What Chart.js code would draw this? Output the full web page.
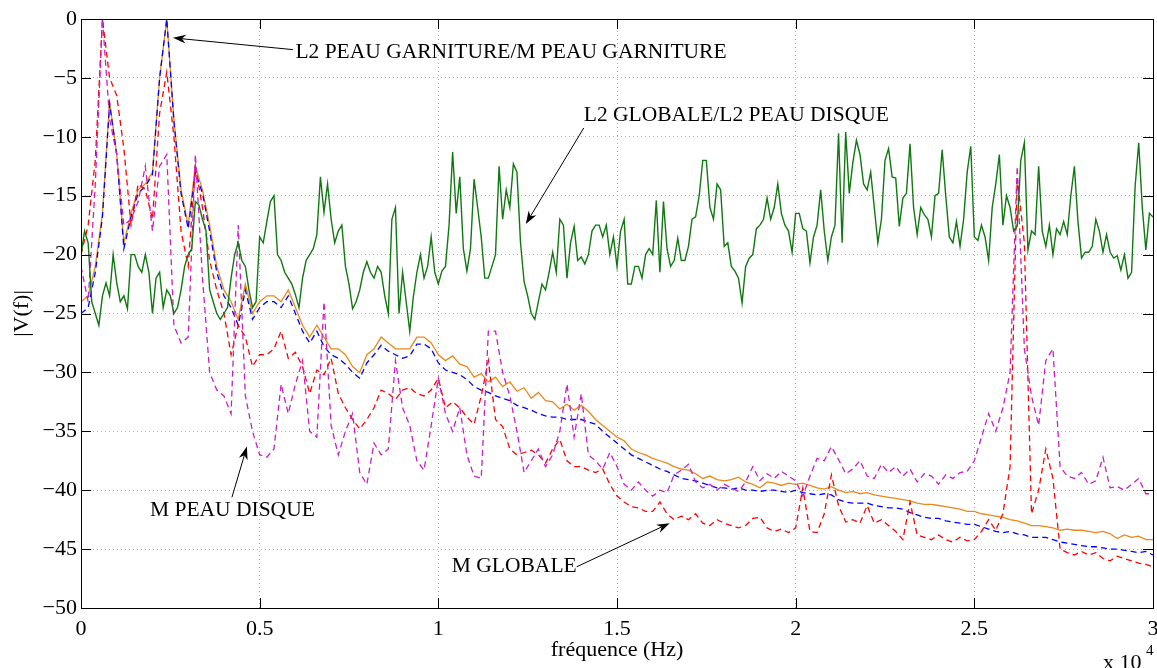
<!DOCTYPE html>
<html lang="fr">
<head>
<meta charset="utf-8">
<title>|V(f)| - spectres</title>
<script src="https://cdn.jsdelivr.net/npm/chart.js@4.4.1/dist/chart.umd.min.js"></script>
<style>
  html, body { margin: 0; padding: 0; background: #ffffff; }
  #spectre-chart { display: block; }
</style>
</head>
<body>
<canvas id="spectre-chart" width="1157" height="668"></canvas>
<script>
/**
 * Spectres |V(f)| : cinq courbes lues sur la figure d'origine
 * courbe verte au pas de 100 Hz, les autres au pas de 200 Hz
 */

// Grilles des fréquences (Hz) et graduations
const freqHz = Array.from({ length: 151 }, (_, i) => i * 200);
const freqFineHz = Array.from({ length: 301 }, (_, i) => i * 100);
const xTicks = [0, 5000, 10000, 15000, 20000, 25000, 30000];
const yTicks = [0, -5, -10, -15, -20, -25, -30, -35, -40, -45, -50];

// L2 GLOBALE / L2 PEAU DISQUE (vert, trait plein, pas de 100 Hz)
const l2Globale = [
  -20, -18, -19, -24, -25, -26, -23.5, -22.4, -23.5, -20,
  -22.4, -24, -23.5, -24.6, -20, -20, -21, -21.5, -20, -21.5,
  -25, -22, -21.5, -24.5, -23, -23.5, -25, -24.5, -23, -21,
  -20, -19.5, -15.5, -15.8, -17, -18, -23, -24, -25, -25.5,
  -25, -24.5, -22, -20, -19, -20.5, -21, -23, -24.5, -24,
  -18.5, -19, -17.2, -15.5, -15, -20, -20.5, -21.5, -22, -22.5,
  -23.4, -24.5, -22, -20.5, -20, -19.5, -18.3, -13.4, -16.4, -14,
  -17, -19, -18, -17.5, -21, -22.5, -24.6, -24, -23, -21.5,
  -20.6, -21.5, -22, -21, -21.5, -23.5, -25, -17, -16, -25,
  -21.5, -24, -26.5, -23.6, -21.5, -20, -22, -21, -18.5, -21.5,
  -22.5, -21.4, -21, -17.5, -11.3, -16.5, -13.4, -19.5, -21.4, -19.5,
  -13.6, -16, -18.5, -22, -22, -21, -20, -12.5, -17, -14.5,
  -16, -12.3, -13, -19, -22.3, -23.5, -25, -25.5, -24, -22.5,
  -23, -21.5, -19.8, -21.5, -17, -17.5, -22, -19, -17.6, -20.5,
  -20.2, -20.8, -20, -18, -17.5, -17.5, -18.5, -17.5, -20, -18.5,
  -21, -18, -17, -22.5, -22.5, -21, -21, -22, -20, -19.5,
  -20, -15.4, -21.5, -15.5, -19.5, -21, -20.5, -18.6, -20.5, -20.5,
  -19.3, -17, -16.8, -15, -12, -12, -16, -17, -14, -14.5,
  -19.3, -19, -21, -21.4, -22, -24.1, -21, -20.3, -20, -17.8,
  -17.5, -17, -15.2, -17, -16, -14, -16.5, -17.5, -18, -19.8,
  -16.5, -16.5, -17.8, -18, -20.7, -18.5, -17.5, -14.5, -18, -20.5,
  -18.5, -17.5, -9.7, -19, -9.6, -14.8, -12.2, -10.3, -11.5, -14,
  -14.5, -13, -16, -19, -17, -12, -11, -13.4, -13.5, -17.6,
  -15.2, -14.8, -10.6, -16, -18.3, -16, -16.6, -17, -18.5, -15,
  -14.8, -11.1, -15, -18.5, -19, -17.2, -19.3, -17, -13, -10.8,
  -18.5, -18.8, -17.5, -18.5, -20.5, -16, -14, -11.5, -17.5, -15,
  -16, -18, -17.6, -12, -10.5, -19.6, -18, -18.3, -12.5, -18,
  -19.3, -17.5, -20, -17.8, -18.3, -17.2, -18.3, -15, -12.5, -17.2,
  -20.3, -19.8, -19.8, -19.3, -17, -18, -19.8, -18.3, -19.8, -20.3,
  -20.1, -21.3, -20, -22, -21.5, -14.2, -10.5, -16, -19.6, -16.5,
  -16.8
];

// L2 PEAU GARNITURE (orange, trait plein)
const l2Garniture = [
  -24, -23.5, -21, -16.5, -7, -11.5, -19, -16.5, -14.5, -14,
  -13, -5, 0, -8.5, -14.5, -17.5, -12.5, -14.5, -17.5, -21,
  -23, -24, -25.5, -22.5, -25, -24, -23.5, -23.5, -24, -23,
  -24.5, -26, -27, -26, -27, -28, -28, -28.5, -29.5, -30,
  -28.5, -28, -27, -27.5, -28, -28, -28, -27, -27, -27.5,
  -28.5, -29, -28.6, -29.3, -29.5, -30.4, -30.1, -30.8, -30.4, -31.2,
  -30.8, -31.6, -31.3, -32.2, -31.7, -32.4, -32.5, -33.1, -32.7, -33.2,
  -32.8, -33.3, -34, -34.5, -35, -35.5, -35.8, -36.5, -36.8, -37,
  -37.3, -37.5, -37.7, -38, -38.2, -38.3, -38.6, -39, -38.8, -39.1,
  -39.2, -39.1, -38.9, -39.3, -39.5, -39.8, -39.3, -39.4, -39.6, -39.4,
  -39.5, -39.4, -39.6, -39.8, -39.9, -39.7, -40, -40.2, -40.1, -40.3,
  -40.2, -40.4, -40.5, -40.6, -40.7, -40.8, -40.9, -41.1, -41.2, -41.2,
  -41.3, -41.4, -41.5, -41.6, -41.8, -41.8, -42, -42.1, -42.2, -42.3,
  -42.5, -42.6, -42.8, -43, -43, -43.1, -43.2, -43.4, -43.3, -43.4,
  -43.4, -43.5, -43.6, -43.5, -43.7, -44.1, -43.8, -44, -43.9, -44.2,
  -44.2
];

// M PEAU GARNITURE (bleu, tirets)
const mGarniture = [
  -25, -24.5, -21.5, -16.8, -7.2, -11.5, -19.5, -16.8, -14.8, -14.2,
  -13.2, -5, 0, -8.7, -14.8, -17.8, -13, -14.8, -18, -21.5,
  -23.5, -24.5, -26, -23, -25.5, -24.5, -24, -24, -24.5, -23.5,
  -25, -26.5, -27.5, -26.5, -27.8, -28.5, -28.8, -29.3, -30, -30.5,
  -29.2, -28.5, -27.7, -28.2, -28.5, -28.8, -28.6, -27.6, -27.6, -28,
  -29.2, -29.8, -30, -30.2, -30.6, -31.2, -31.5, -31.7, -32, -32.2,
  -32.4, -32.8, -33, -33.2, -33.5, -33.7, -33.8, -33.8, -34, -34,
  -34, -34.2, -34.4, -35, -35.5, -36, -36.5, -37, -37.3, -37.6,
  -37.9, -38.2, -38.4, -38.7, -39, -39.1, -39.2, -39.4, -39.6, -39.8,
  -39.8, -39.9, -39.8, -40, -40, -40.1, -40, -40, -40.1, -40.2,
  -40, -40.2, -40.3, -40.4, -40.3, -40.4, -40.8, -41, -41.1, -41.1,
  -41.1, -41.3, -41.4, -41.5, -41.5, -41.6, -41.9, -42.1, -42.3, -42.4,
  -42.4, -42.6, -42.7, -42.8, -42.9, -42.9, -43.1, -43.3, -43.5, -43.6,
  -43.5, -43.7, -43.8, -44, -44, -44, -44.2, -44.4, -44.5, -44.6,
  -44.7, -44.8, -44.8, -44.9, -45, -45, -45.1, -45.2, -45.3, -45.2,
  -45.5
];

// M GLOBALE (rouge, tirets)
const mGlobale = [
  -20, -17.5, -12, 0, -5, -6.5, -11, -17.5, -14, -14.5,
  -17, -8, -4.5, -10, -18, -21, -12.5, -16, -20.5, -23,
  -25, -28.5, -26, -27, -29.5, -28.5, -28.5, -28, -26.5, -28.8,
  -28.3, -29.5, -31.8, -29.8, -30.2, -28.8, -31.8, -33, -34, -34.8,
  -34, -33, -31.5, -31.8, -32.3, -31.5, -31.3, -31.8, -32, -31.5,
  -30.5, -33, -32.5, -33, -33.8, -34.4, -32, -29, -34, -34.6,
  -36.5, -37, -36.8, -36.6, -37, -37.7, -36.5, -35.7, -37.5, -38,
  -38, -38.3, -38.5, -38.2, -39.5, -40.5, -41, -41.4, -41.5, -41.8,
  -41.8, -41, -42, -42.5, -42.2, -42.5, -42, -42.8, -43, -42.5,
  -42.8, -43, -43.2, -43, -42.4, -42.3, -43.2, -43.5, -43.3, -43.6,
  -43.2, -39.8, -43.5, -43.6, -42, -38.7, -41.3, -42.7, -42.5, -42.8,
  -41.3, -42.8, -42.5, -43, -43.5, -44.2, -41, -43.8, -44, -44.2,
  -43.8, -44.2, -44.4, -44, -44.3, -44.2, -43.5, -42.5, -43.4, -42,
  -38, -13.5, -19, -42, -40, -36.5, -39, -45, -45.3, -45.5,
  -45.2, -45.5, -45.3, -45.8, -46, -45.6, -45.8, -46, -46.2, -46.3,
  -46.5
];

// M PEAU DISQUE (magenta, tirets)
const mDisque = [
  -21, -24, -14, 0, -8.5, -11.5, -17.5, -17, -15.5, -12.5,
  -18, -12.5, -11.5, -26, -27.5, -27, -11.5, -22, -30, -31.5,
  -32, -33.5, -17.5, -32, -35, -37, -37.2, -36.5, -31, -33.5,
  -31, -29, -35, -35.5, -24, -34.5, -37, -35, -33.5, -38.5,
  -39.5, -36, -37, -36.5, -29, -33, -34.5, -37.5, -38.3, -34.5,
  -30.5, -33.5, -35, -33, -37, -38.8, -39, -26.5, -26.5, -30,
  -32, -35, -38.5, -37.5, -36.5, -38, -37, -35, -31, -35.5,
  -31.8, -37, -37.5, -38.2, -36.8, -38, -39.5, -40, -39.3, -40,
  -40.5, -40, -40.2, -38.7, -38.3, -37.8, -39.3, -39.8, -39.5, -40,
  -39.5, -39.8, -40.1, -39.3, -38, -39.2, -38.6, -39, -38.4, -38.8,
  -39.2, -40.5, -38.8, -37.3, -37.5, -36.3, -37.4, -38.6, -38.2, -37.5,
  -38.8, -39, -37.8, -38.5, -38, -38.8, -38.2, -39.3, -38.6, -38.8,
  -39.5, -38.7, -39, -38.5, -38.4, -37.5, -35.5, -33.5, -35, -33,
  -30, -12.5, -28, -32, -34.5, -29, -28, -38, -38.8, -39,
  -38.5, -39.5, -39.2, -37.2, -39.8, -39.7, -40, -39.5, -39, -40.3,
  -40.3
];

// Annotations (coordonnées en Hz et en |V(f)|)
const annotations = [
  { text: 'L2 PEAU GARNITURE/M PEAU GARNITURE', tx: 6000, ty: -2.8, from: [5930, -2.6], to: [2573, -1.6] },
  { text: 'L2 GLOBALE/L2 PEAU DISQUE', tx: 14070, ty: -8.15, from: [14070, -9.25], to: [12448, -17.4] },
  { text: 'M PEAU DISQUE', tx: 1930, ty: -41.7, from: [4224, -40.6], to: [4643, -36.3] },
  { text: 'M GLOBALE', tx: 10378, ty: -46.5, from: [13874, -46.5], to: [16476, -42.8] }
];

const serif = '"Liberation Serif", "Times New Roman", serif';

document.addEventListener('DOMContentLoaded', function() {
  initSpectreChart();
});

/**
 * Construit les points {x, y} d'une série sur sa grille de fréquences
 */
function toPoints(grid, values) {
  return values.map((v, i) => ({ x: grid[i], y: v }));
}

/**
 * Flèche avec pointe pleine (style MATLAB)
 */
function drawArrow(ctx, x1, y1, x2, y2) {
  const angle = Math.atan2(y2 - y1, x2 - x1);
  const cos = Math.cos(angle);
  const sin = Math.sin(angle);
  const len = 13;
  const half = 4.5;
  ctx.beginPath();
  ctx.moveTo(x1, y1);
  ctx.lineTo(x2 - cos * 8, y2 - sin * 8);
  ctx.stroke();
  ctx.beginPath();
  ctx.moveTo(x2, y2);
  ctx.lineTo(x2 - len * cos + half * sin, y2 - len * sin - half * cos);
  ctx.lineTo(x2 - 9 * cos, y2 - 9 * sin);
  ctx.lineTo(x2 - len * cos - half * sin, y2 - len * sin + half * cos);
  ctx.closePath();
  ctx.fill();
}

// Fond blanc, cadre, graduations intérieures et annotations
const matlabAxesPlugin = {
  id: 'matlabAxes',
  beforeDraw(chart) {
    const ctx = chart.ctx;
    ctx.save();
    ctx.fillStyle = '#ffffff';
    ctx.fillRect(0, 0, chart.width, chart.height);
    ctx.restore();
  },
  afterDraw(chart) {
    const ctx = chart.ctx;
    const area = chart.chartArea;
    const xs = chart.scales.x;
    const ys = chart.scales.y;
    const tick = 10;

    ctx.save();
    ctx.strokeStyle = '#000000';
    ctx.lineWidth = 1;

    // graduations vers l'intérieur sur les quatre côtés
    ctx.beginPath();
    xTicks.forEach(v => {
      const px = Math.round(xs.getPixelForValue(v)) + 0.5;
      ctx.moveTo(px, area.bottom);
      ctx.lineTo(px, area.bottom - tick);
      ctx.moveTo(px, area.top);
      ctx.lineTo(px, area.top + tick);
    });
    yTicks.forEach(v => {
      const py = Math.round(ys.getPixelForValue(v)) + 0.5;
      ctx.moveTo(area.left, py);
      ctx.lineTo(area.left + tick, py);
      ctx.moveTo(area.right, py);
      ctx.lineTo(area.right - tick, py);
    });
    ctx.stroke();

    // cadre
    ctx.strokeRect(Math.round(area.left) + 0.5, Math.round(area.top) + 0.5,
      Math.round(area.right - area.left), Math.round(area.bottom - area.top));

    // annotations
    ctx.fillStyle = '#000000';
    ctx.font = '21.5px ' + serif;
    ctx.textAlign = 'left';
    ctx.textBaseline = 'middle';
    annotations.forEach(a => {
      ctx.fillText(a.text, xs.getPixelForValue(a.tx), ys.getPixelForValue(a.ty));
      drawArrow(ctx,
        xs.getPixelForValue(a.from[0]), ys.getPixelForValue(a.from[1]),
        xs.getPixelForValue(a.to[0]), ys.getPixelForValue(a.to[1]));
    });

    // multiplicateur de l'axe x
    ctx.font = '22px ' + serif;
    ctx.fillText('x 10', area.right - 50, chart.height - 5);
    ctx.font = '15px ' + serif;
    ctx.fillText('4', area.right - 7, chart.height - 17);
    ctx.restore();
  }
};

/**
 * Initialisation du graphique
 */
function initSpectreChart() {
  const canvas = document.getElementById('spectre-chart');
  if (!canvas) return;

  const series = [
    { label: 'L2 GLOBALE/L2 PEAU DISQUE', grid: freqFineHz, data: l2Globale, color: '#107810', dash: [], order: 1, width: 1.4 },
    { label: 'M PEAU DISQUE', grid: freqHz, data: mDisque, color: '#c81ec8', dash: [6, 4], order: 2, width: 1.3 },
    { label: 'M GLOBALE', grid: freqHz, data: mGlobale, color: '#ff0000', dash: [6, 4], order: 3, width: 1.3 },
    { label: 'M PEAU GARNITURE', grid: freqHz, data: mGarniture, color: '#0000ff', dash: [6, 4], order: 4, width: 1.3 },
    { label: 'L2 PEAU GARNITURE', grid: freqHz, data: l2Garniture, color: '#e8891a', dash: [], order: 5, width: 1.3 }
  ];

  new Chart(canvas, {
    type: 'line',
    data: {
      datasets: series.map(s => ({
        label: s.label,
        data: toPoints(s.grid, s.data),
        borderColor: s.color,
        backgroundColor: s.color,
        borderDash: s.dash,
        borderWidth: s.width,
        pointRadius: 0,
        tension: 0,
        fill: false,
        order: s.order
      }))
    },
    options: {
      responsive: false,
      devicePixelRatio: 1,
      animation: false,
      layout: { padding: { left: 0, top: 19, right: 4, bottom: 0 } },
      plugins: {
        legend: { display: false },
        tooltip: { enabled: false }
      },
      scales: {
        x: {
          type: 'linear',
          min: 0,
          max: 30000,
          afterFit: s => { s.height = 60; s.paddingLeft = 0; s.paddingRight = 0; },
          afterBuildTicks: s => { s.ticks = xTicks.map(v => ({ value: v })); },
          ticks: {
            color: '#000000',
            font: { family: serif, size: 22 },
            padding: 8,
            maxRotation: 0,
            callback: v => String(v / 10000)
          },
          grid: { color: '#b0b0b0', lineWidth: 1, drawTicks: false },
          border: { display: false, dash: [1, 3] },
          title: {
            display: true,
            text: 'fréquence (Hz)',
            color: '#000000',
            font: { family: serif, size: 22 },
            padding: { top: 0, bottom: 5 }
          }
        },
        y: {
          type: 'linear',
          min: -50,
          max: 0,
          afterFit: s => { s.width = 81; },
          afterBuildTicks: s => { s.ticks = yTicks.map(v => ({ value: v })); },
          ticks: {
            color: '#000000',
            font: { family: serif, size: 22 },
            padding: 4,
            callback: v => (v < 0 ? '\u2212' + Math.abs(v) : String(v))
          },
          grid: { color: '#b0b0b0', lineWidth: 1, drawTicks: false },
          border: { display: false, dash: [1, 3] },
          title: {
            display: true,
            text: '|V(f)|',
            color: '#000000',
            font: { family: serif, size: 22 },
            padding: { top: 9, bottom: 0 }
          }
        }
      }
    },
    plugins: [matlabAxesPlugin]
  });
}
</script>
</body>
</html>
